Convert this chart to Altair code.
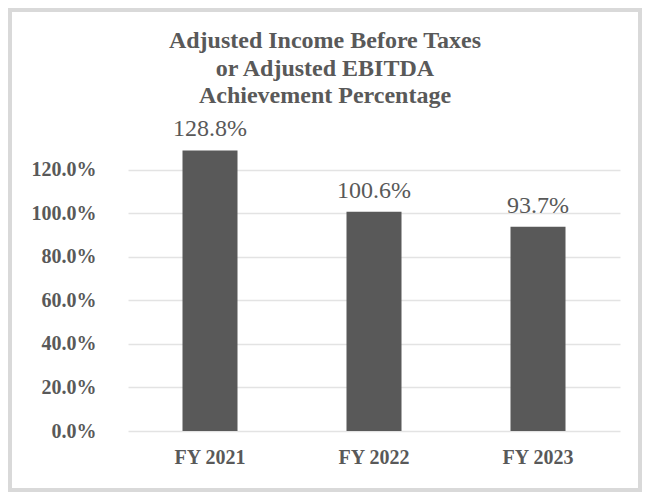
import altair as alt
import pandas as pd

categories = ["FY 2021", "FY 2022", "FY 2023"]
values = [1.288, 1.006, 0.937]
y_ticks = [0, 0.2, 0.4, 0.6, 0.8, 1.0, 1.2]

df = pd.DataFrame({"year": categories, "pct": values})

GRAY = "#595959"
FONT = "Liberation Serif"

base = alt.Chart(df).encode(
    x=alt.X(
        "year:N",
        sort=categories,
        title=None,
        scale=alt.Scale(paddingInner=0, paddingOuter=0),
        axis=alt.Axis(
            labelAngle=0,
            labelFont=FONT,
            labelFontSize=20,
            labelFontWeight="bold",
            labelColor=GRAY,
            labelPadding=16,
            ticks=False,
            domain=False,
            grid=False,
        ),
    ),
    y=alt.Y(
        "pct:Q",
        title=None,
        scale=alt.Scale(domain=[0, 1.4], nice=False),
        axis=alt.Axis(
            values=y_ticks,
            format=".1%",
            labelFont=FONT,
            labelFontSize=20,
            labelFontWeight="bold",
            labelColor=GRAY,
            labelPadding=32,
            ticks=False,
            domain=False,
            grid=True,
            gridColor="#e3e3e3",
            gridWidth=1.5,
        ),
    ),
)

bars = base.mark_bar(size=55, color=GRAY)
labels = base.mark_text(
    dy=-14,
    baseline="alphabetic",
    font=FONT,
    fontSize=24,
    color=GRAY,
).encode(text=alt.Text("pct:Q", format=".1%"))

border = alt.Chart(pd.DataFrame({"a": [0]})).mark_rect(
    fill=None, stroke="#d9d9d9", strokeWidth=4
).encode(
    x=alt.value(-118),
    x2=alt.value(512),
    y=alt.value(-116),
    y2=alt.value(364),
)

chart = (
    alt.layer(bars, labels, border)
    .properties(
        width=492,
        height=305,
        title=alt.TitleParams(
            text=["Adjusted Income Before Taxes", "or Adjusted EBITDA", "Achievement Percentage"],
            font=FONT,
            fontSize=24,
            fontWeight="bold",
            color=GRAY,
            anchor="middle",
            dx=-49,
            dy=119,
            lineHeight=27.5,
            baseline="alphabetic",
            offset=0,
        ),
        autosize=alt.AutoSizeParams(type="none"),
        padding={"left": 120, "top": 118, "right": 22, "bottom": 61},
        background="white",
    )
    .configure_view(stroke=None)
)

chart.save("out.html", embed_options={"renderer": "svg", "actions": False})
